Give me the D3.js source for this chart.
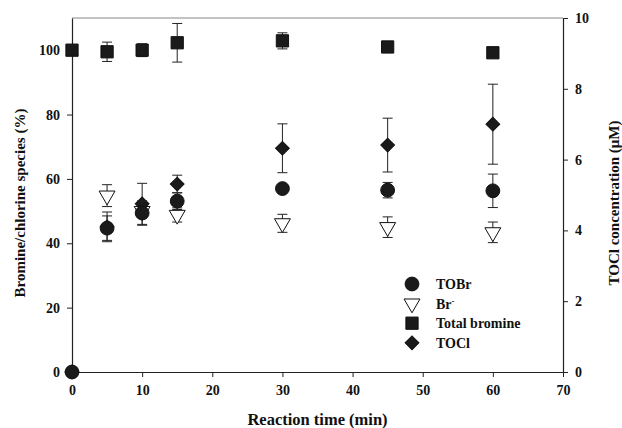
<!DOCTYPE html>
<html>
<head>
<meta charset="utf-8">
<script src="https://cdn.jsdelivr.net/npm/d3@7"></script>
<style>
  body { margin: 0; background: #fff; }
  text { font-family: "Liberation Serif", "Times New Roman", serif; font-weight: bold; fill: #111; }
</style>
</head>
<body>
<svg id="chart" width="622" height="428"></svg>
<script>
// reaction time (min)
const times = [0, 5, 10, 15, 30, 45, 60];
// left axis (%) series, with error
const toBr = [0, 44.7, 49.4, 53.1, 57.0, 56.5, 56.3];
const toBrErr = [0, 3.8, 3.8, 2.6, 0.6, 2.4, 5.2];
const brMinus = [null, 54.8, 50.0, 48.8, 46.2, 45.0, 43.4];
const brMinusErr = [0, 3.4, 0, 2.2, 2.8, 3.2, 3.2];
const totalBr = [100, 99.5, 100, 102.3, 102.9, 101, 99.2];
const totalBrErr = [0, 3.0, 2.0, 6.0, 2.5, 0, 1.0];
// right axis (uM)
const toCl = [0, 4.1, 4.75, 5.31, 6.32, 6.41, 7.0];
const toClErr = [0, 0.42, 0.58, 0.25, 0.69, 0.76, 1.13];

const xTicks = [0, 10, 20, 30, 40, 50, 60, 70];
const yLeftTicks = [0, 20, 40, 60, 80, 100];
const yRightTicks = [0, 2, 4, 6, 8, 10];

const svg = d3.select("#chart");
const pL = 72, pR = 563, pT = 18, pB = 372;

const x = d3.scaleLinear().domain([0, 70]).range([pL, pR]);
const yL = d3.scaleLinear().domain([0, 110]).range([pB, pT]);
const yR = d3.scaleLinear().domain([0, 10]).range([pB, pT]);

// top frame line
svg.append("line").attr("x1", pL).attr("x2", pR).attr("y1", pT).attr("y2", pT)
  .attr("stroke", "#888").attr("stroke-width", 1.2);

const styleAxis = g => {
  g.selectAll("path").attr("stroke", "#222").attr("stroke-width", 1.2);
  g.selectAll("line").attr("stroke", "#222");
  g.selectAll("text").attr("font-size", 14).attr("font-family", "Liberation Serif").attr("font-weight", "bold").attr("fill", "#111");
};

svg.append("g").attr("transform", `translate(0,${pB})`)
  .call(d3.axisBottom(x).tickValues(xTicks).tickSize(5).tickSizeOuter(0).tickPadding(8))
  .call(styleAxis);

svg.append("g").attr("transform", `translate(${pL},0)`)
  .call(d3.axisLeft(yL).tickValues(yLeftTicks).tickSize(5).tickSizeOuter(0).tickPadding(7))
  .call(styleAxis);

svg.append("g").attr("transform", `translate(${pR},0)`)
  .call(d3.axisRight(yR).tickValues(yRightTicks).tickSize(5).tickSizeOuter(0).tickPadding(7))
  .call(styleAxis);

// axis titles
svg.append("text").attr("x", x(35)).attr("y", 425).attr("text-anchor", "middle")
  .attr("font-size", 16.5).text("Reaction time (min)");
svg.append("text").attr("transform", `translate(25,${(pT + pB) / 2 + 8}) rotate(-90)`)
  .attr("text-anchor", "middle").attr("font-size", 15).text("Bromine/chlorine species (%)");
svg.append("text").attr("transform", `translate(619,${(pT + pB) / 2 + 8}) rotate(-90)`)
  .attr("text-anchor", "middle").attr("font-size", 15).text("TOCl concentration (\u03bcM)");

// series drawing
function drawSeries(vals, errs, yScale, symType, size, fill, rotate) {
  const g = svg.append("g");
  const pts = times.map((t, i) => ({ t, v: vals[i], e: errs[i] })).filter(d => d.v != null);
  pts.forEach(d => {
    const cx = x(d.t);
    if (d.e > 0) {
      const y1 = yScale(d.v + d.e), y2 = yScale(d.v - d.e);
      g.append("line").attr("x1", cx).attr("x2", cx).attr("y1", y1).attr("y2", y2)
        .attr("stroke", "#222").attr("stroke-width", 1);
      [y1, y2].forEach(yy => g.append("line").attr("x1", cx - 5).attr("x2", cx + 5)
        .attr("y1", yy).attr("y2", yy).attr("stroke", "#222").attr("stroke-width", 1));
    }
  });
  g.selectAll("path.m").data(pts).join("path")
    .attr("d", d3.symbol().type(symType).size(size))
    .attr("transform", d => `translate(${x(d.t)},${yScale(d.v)}) rotate(${rotate})`)
    .attr("fill", fill).attr("stroke", "#111").attr("stroke-width", 1);
}

drawSeries(totalBr, totalBrErr, yL, d3.symbolSquare, 150, "#1a1a1a", 0);
drawSeries(brMinus, brMinusErr, yL, d3.symbolTriangle, 110, "#fff", 180);
drawSeries(toCl, toClErr, yR, d3.symbolSquare, 95, "#1a1a1a", 45);
drawSeries(toBr, toBrErr, yL, d3.symbolCircle, 150, "#1a1a1a", 0);

// legend
const legend = [
  { label: "TOBr", type: d3.symbolCircle, size: 150, fill: "#1a1a1a", rot: 0 },
  { label: "Br", sup: "-", type: d3.symbolTriangle, size: 110, fill: "#fff", rot: 180 },
  { label: "Total bromine", type: d3.symbolSquare, size: 150, fill: "#1a1a1a", rot: 0 },
  { label: "TOCl", type: d3.symbolSquare, size: 95, fill: "#1a1a1a", rot: 45 }
];
const lg = svg.append("g");
legend.forEach((d, i) => {
  const yy = 284 + i * 19.6;
  lg.append("path").attr("d", d3.symbol().type(d.type).size(d.size))
    .attr("transform", `translate(412,${yy}) rotate(${d.rot})`)
    .attr("fill", d.fill).attr("stroke", "#111").attr("stroke-width", 1);
  const t = lg.append("text").attr("x", 436).attr("y", yy + 5).attr("font-size", 14).text(d.label);
  if (d.sup) t.append("tspan").attr("dy", -5).attr("font-size", 9).text(d.sup);
});
</script>
</body>
</html>
